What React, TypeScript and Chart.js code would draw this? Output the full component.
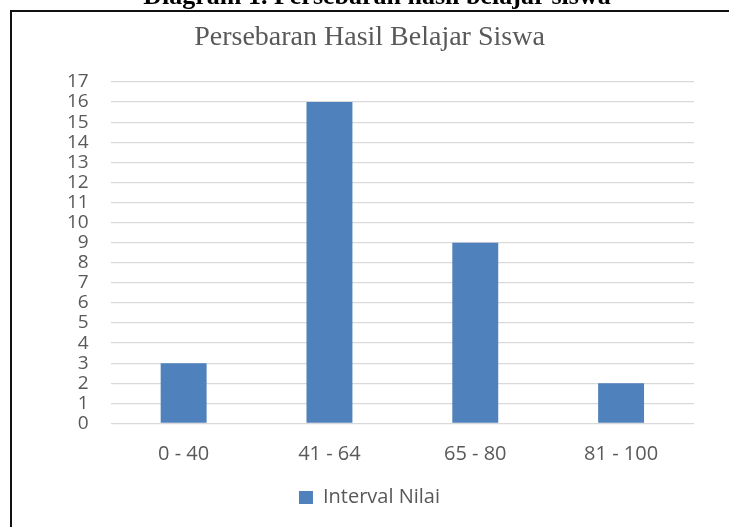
import React, { useEffect, useRef } from "react";
import { Chart, registerables } from "chart.js";

Chart.register(...registerables);

const pageHeading = "Diagram 1. Persebaran hasil belajar siswa";
const chartTitle = "Persebaran Hasil Belajar Siswa";
const seriesName = "Interval Nilai";
const categories = ["0 - 40", "41 - 64", "65 - 80", "81 - 100"];
const values = [3, 16, 9, 2];
const yMin = 0;
const yMax = 17;
const yStep = 1;

const TEXT = "#595959";
const BAR = "#4f81bd";
const GRID = "#d9d9d9";

export default function App() {
  const ref = useRef<HTMLCanvasElement | null>(null);

  useEffect(() => {
    if (!ref.current) return;
    const chart = new Chart(ref.current, {
      type: "bar",
      data: {
        labels: categories,
        datasets: [
          {
            label: seriesName,
            data: values,
            backgroundColor: BAR,
            borderWidth: 0,
            categoryPercentage: 1,
            barPercentage: 0.315,
          },
        ],
      },
      options: {
        animation: false,
        responsive: false,
        maintainAspectRatio: false,
        layout: { padding: { left: 45, right: 35, top: 0, bottom: 9.5 } },
        plugins: {
          tooltip: { enabled: false },
          title: {
            display: true,
            text: chartTitle,
            color: TEXT,
            font: { family: "'Liberation Serif', 'Times New Roman', serif", size: 28, weight: "normal", lineHeight: 1.2 },
            padding: { top: 21.2, bottom: 27.2 },
          },
          legend: {
            display: true,
            position: "bottom",
            labels: {
              color: TEXT,
              boxWidth: 14,
              boxHeight: 13,
              padding: 10,
              font: { family: "'Open Sans', sans-serif", size: 20 },
            },
          },
        },
        scales: {
          x: {
            grid: { display: false, drawTicks: false },
            border: { display: false },
            ticks: {
              color: TEXT,
              padding: 19,
              font: { family: "'Open Sans', sans-serif", size: 20, lineHeight: 1.2 },
            },
            afterFit: (scale: any) => {
              scale.height -= 8;
            },
          },
          y: {
            min: yMin,
            max: yMax,
            grid: { color: GRID, lineWidth: 1.3, drawTicks: false },
            border: { display: false },
            ticks: {
              stepSize: yStep,
              autoSkip: false,
              color: TEXT,
              padding: 22,
              font: { family: "'Open Sans', sans-serif", size: 19, lineHeight: 1.2 },
            },
          },
        },
      },
    });
    return () => chart.destroy();
  }, []);

  return (
    <div
      style={{
        position: "absolute",
        left: 0,
        top: 0,
        width: 729,
        height: 527,
        overflow: "hidden",
        background: "#ffffff",
      }}
    >
      <canvas
        ref={ref}
        width={729}
        height={527}
        style={{ position: "absolute", left: 0, top: 0, width: 729, height: 527 }}
      />
      <div
        style={{
          position: "absolute",
          left: 10,
          top: 9.5,
          width: 900,
          height: 900,
          borderLeft: "2px solid #111",
          borderTop: "2px solid #111",
          pointerEvents: "none",
        }}
      />
      <div
        style={{
          position: "absolute",
          left: 0,
          top: -16.8,
          width: 754,
          textAlign: "center",
          fontFamily: "'Liberation Serif', 'Times New Roman', serif",
          fontWeight: "bold",
          fontSize: 26,
          lineHeight: "26px",
          color: "#000",
          whiteSpace: "nowrap",
        }}
      >
        {pageHeading}
      </div>
    </div>
  );
}
